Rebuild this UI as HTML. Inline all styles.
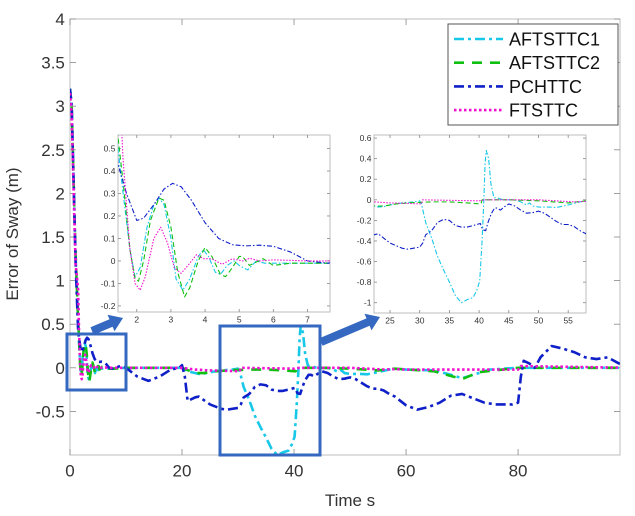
<!DOCTYPE html>
<html><head><meta charset="utf-8"><style>
html,body{margin:0;padding:0;background:#fff;}
svg{display:block;font-family:"Liberation Sans",sans-serif;}
</style></head><body>
<svg id="chart" width="635" height="516" viewBox="0 0 635 516" xmlns="http://www.w3.org/2000/svg">
<g id="main"></g>
</svg>
<script>
const seriesNames = ["AFTSTTC1","AFTSTTC2","PCHTTC","FTSTTC"];
const mainXTicks = [0,20,40,60,80];
const mainYTicks = [-0.5,0,0.5,1,1.5,2,2.5,3,3.5,4];
const mainYTickLabels = ["-0.5","0","0.5","1","1.5","2","2.5","3","3.5","4"];
const inset1XTicks = [2,3,4,5,6,7];
const inset1YTicks = [-0.2,-0.1,0,0.1,0.2,0.3,0.4,0.5];
const inset2XTicks = [25,30,35,40,45,50,55];
const inset2YTicks = [-1,-0.8,-0.6,-0.4,-0.2,0,0.2,0.4,0.6];

const cyanT = [0,0.3,0.7,1.0,1.45,1.6,1.8,1.95,2.1,2.3,2.5,2.65,2.8,3.0,3.15,3.35,3.55,3.8,3.95,4.1,4.3,4.45,4.65,4.85,5.0,5.25,5.5,5.75,6.0,6.5,7,7.6,10,20,21,22.3,23,24,25,27,29,30,30.3,31,32,33,34,35,36,37,38,39,39.6,40.1,40.5,40.8,41,41.2,41.6,42,42.5,43,44,46,47,48,48.5,49,50,52,53,55,57,58,60,65,68,70,72,75,80,100];
const cyanY = [3.2,3.0,2.0,1.3,0.5,0.3,0.05,-0.07,-0.03,0.15,0.25,0.28,0.25,0.1,-0.08,-0.13,-0.08,0.02,0.05,0.02,-0.05,-0.06,-0.02,0.0,-0.02,-0.04,0.0,-0.01,-0.01,-0.01,-0.01,-0.01,0,0,-0.04,-0.06,-0.07,-0.065,-0.05,-0.03,-0.02,-0.01,-0.04,-0.22,-0.37,-0.55,-0.68,-0.8,-0.93,-1.0,-0.97,-0.95,-0.88,-0.79,-0.4,0.0,0.35,0.48,0.4,0.15,0.02,0.02,0.0,0.0,-0.02,-0.05,-0.03,-0.06,-0.07,-0.07,-0.075,-0.05,-0.02,-0.01,-0.02,-0.03,-0.08,-0.12,-0.08,-0.02,0,0];

const greenT = [0,0.3,0.7,1.0,1.45,1.6,1.8,1.95,2.05,2.2,2.4,2.65,2.8,3.0,3.2,3.4,3.55,3.8,4.0,4.2,4.45,4.6,4.8,5.0,5.1,5.3,5.7,6.0,6.5,7,7.6,10,20,22.3,24,26,28,30,32,35,38,40.3,40.5,45,50,55,58,65,70,73,80,100];
const greenY = [3.2,3.0,2.0,1.3,0.55,0.35,0.05,-0.08,-0.09,0.0,0.18,0.28,0.27,0.15,-0.05,-0.16,-0.12,0.0,0.06,0.02,-0.06,-0.07,-0.03,0.02,0.02,-0.02,0.01,-0.02,-0.01,-0.01,-0.01,0,0,-0.06,-0.06,-0.04,-0.03,-0.025,-0.02,-0.02,-0.03,-0.04,0.0,0,-0.01,-0.03,-0.01,-0.04,-0.13,-0.05,0,0];

const blueT = [0,0.3,0.7,1.0,1.45,1.7,2.0,2.2,2.5,2.8,3.05,3.3,3.6,4.0,4.4,4.8,5.2,5.6,6.0,6.5,7,7.6,8,9,10,12,14,16,18,19.5,20,20.5,21,22,22.3,23,25,27,28,30,30.5,31,32,33,34,35,36,37,38,39,40.2,40.6,41.1,41.5,42,42.6,43,43.6,44.2,45,46,47,48,49,50,51,52,53,54,55,56,57,58,60,62,64,66,68,70,72,74,76,79,80,80.5,81,82,83,84,86,88,90,92,94,96,98,100];
const blueY = [3.2,3.0,2.0,1.2,0.43,0.3,0.18,0.19,0.25,0.32,0.345,0.33,0.27,0.17,0.1,0.072,0.067,0.07,0.065,0.04,0.0,-0.01,0.0,0.02,0.0,-0.1,-0.15,-0.1,-0.02,0.0,0.03,-0.1,-0.38,-0.35,-0.34,-0.33,-0.42,-0.47,-0.48,-0.46,-0.42,-0.34,-0.3,-0.22,-0.19,-0.2,-0.25,-0.265,-0.265,-0.25,-0.23,-0.29,-0.3,-0.22,-0.14,-0.08,-0.08,-0.1,-0.07,-0.04,-0.06,-0.1,-0.13,-0.125,-0.11,-0.13,-0.17,-0.21,-0.24,-0.24,-0.26,-0.3,-0.33,-0.43,-0.48,-0.45,-0.4,-0.32,-0.3,-0.35,-0.4,-0.42,-0.42,-0.4,-0.1,0.08,0.05,0.0,0.12,0.25,0.22,0.18,0.12,0.1,0.12,0.05,0.05];

const magT = [0,0.3,0.7,1.0,1.45,1.6,1.8,1.95,2.1,2.25,2.5,2.7,2.9,3.1,3.3,3.5,3.75,3.95,4.2,4.5,4.8,5.1,5.3,5.6,6,7,7.6,20,22.3,25,28,30.3,30.5,35,40,41,50,53,56,58,60,80,80.5,100];
const magY = [3.15,2.9,1.9,1.2,0.9,0.45,0.05,-0.1,-0.13,-0.07,0.1,0.15,0.08,-0.03,-0.055,-0.02,0.028,0.01,0.01,-0.015,0.01,0.0,0.012,0.0,0.005,0,0,0,-0.02,-0.03,-0.035,-0.04,0.0,-0.005,-0.01,0,0,-0.01,-0.02,-0.015,-0.02,-0.02,0.02,0];

const seriesT = [cyanT, greenT, blueT, magT];
const seriesY = [cyanY, greenY, blueY, magY];
const colors = ["#18c8e8","#10c010","#1020c8","#f010d0"];
const dashMain = ["10 4 3 4","10 8","10 4 3 4","2.5 2.5"];
const dashInset = ["5 2 1.5 2","5 3","5 2 1.5 2","1.5 1.5"];

const NS="http://www.w3.org/2000/svg";
const root=document.getElementById('main');
function mk(tag,attrs,parent){const e=document.createElementNS(NS,tag);for(const k in attrs)e.setAttribute(k,attrs[k]);(parent||root).appendChild(e);return e;}

function drawAxes(cfg){
  const {x0,x1,y0,y1,xmin,xmax,ymin,ymax,name,lw,dash,fs,xt,yt,ytl,tickLen,clipId}=cfg;
  const sx=v=>x0+(v-xmin)/(xmax-xmin)*(x1-x0);
  const sy=v=>y1-(v-ymin)/(ymax-ymin)*(y1-y0);
  const g=mk('g',{});
  
  
  const bg=mk('rect',{x:x0,y:y0,width:x1-x0,height:y1-y0,fill:'#fff',stroke:'#bdbdbd','stroke-width':1},g);
  
  
  const defs=mk('defs',{},g);
  const cp=mk('clipPath',{id:clipId},defs);
  mk('rect',{x:x0,y:y0,width:x1-x0,height:y1-y0},cp);
  xt.forEach((v,i)=>{
    const x=sx(v);
    mk('line',{x1:x,x2:x,y1:y1,y2:y1-tickLen,stroke:'#888','stroke-width':0.8},g);
    mk('line',{x1:x,x2:x,y1:y0,y2:y0+tickLen,stroke:'#888','stroke-width':0.8},g);
    const t=mk('text',{x:x,y:y1+fs*1.25,'font-size':fs,fill:'#333','text-anchor':'middle'},g);
    t.textContent=String(v);
    
    
  });
  yt.forEach((v,i)=>{
    const y=sy(v);
    mk('line',{x1:x0,x2:x0+tickLen,y1:y,y2:y,stroke:'#888','stroke-width':0.8},g);
    mk('line',{x1:x1,x2:x1-tickLen,y1:y,y2:y,stroke:'#888','stroke-width':0.8},g);
    const t=mk('text',{x:x0-fs*0.3,y:y+fs*0.35,'font-size':fs,fill:'#333','text-anchor':'end'},g);
    t.textContent=ytl?ytl[i]:String(v);
    
    
  });
  const lg=mk('g',{'clip-path':'url(#'+clipId+')'},g);
  seriesT.forEach((T,si)=>{
    const Y=seriesY[si];
    let d='';
    T.forEach((t,i)=>{d+=(i?'L':'M')+sx(t).toFixed(2)+' '+sy(Y[i]).toFixed(2);});
    const p=mk('path',{d:d,fill:'none',stroke:colors[si],'stroke-width':lw,'stroke-dasharray':dash[si],'stroke-linejoin':'round'},lg);
    
    
  });
  return {sx,sy};
}

drawAxes({x0:70,x1:620,y0:19,y1:455,xmin:0,xmax:98.2,ymin:-1,ymax:4,name:'main-axes',lw:2.6,dash:dashMain,fs:17,xt:mainXTicks,yt:mainYTicks,ytl:mainYTickLabels,tickLen:6,clipId:'c0'});

// zoom boxes and arrows
const boxes=[[67,334,126,390],[220,326,320,455]];
boxes.forEach((b,i)=>{
  const r=mk('rect',{x:b[0],y:b[1],width:b[2]-b[0],height:b[3]-b[1],fill:'none',stroke:'#3568c0','stroke-width':3});
  
  
});
function arrow(xa,ya,xb,yb,n){
  const dx=xb-xa,dy=yb-ya,L=Math.hypot(dx,dy),ux=dx/L,uy=dy/L,px=-uy,py=ux;
  const hl=13,hw=9,sw=4;
  const bx=xb-ux*hl,by=yb-uy*hl;
  const pts=[[xa+px*sw,ya+py*sw],[bx+px*sw,by+py*sw],[bx+px*hw,by+py*hw],[xb,yb],[bx-px*hw,by-py*hw],[bx-px*sw,by-py*sw],[xa-px*sw,ya-py*sw]];
  const p=mk('polygon',{points:pts.map(q=>q[0].toFixed(1)+','+q[1].toFixed(1)).join(' '),fill:'#3568c0'});
  
  
}
arrow(92,331,123,318,'zoom-arrow-1');
arrow(321,342,380,317,'zoom-arrow-2');

drawAxes({x0:118,x1:330,y0:135,y1:312,xmin:1.45,xmax:7.66,ymin:-0.227,ymax:0.56,name:'inset-1',lw:1.1,dash:dashInset,fs:8.5,xt:inset1XTicks,yt:inset1YTicks,tickLen:3,clipId:'c1'});
drawAxes({x0:374,x1:586,y0:135,y1:313,xmin:22.3,xmax:58,ymin:-1.1,ymax:0.63,name:'inset-2',lw:1.1,dash:dashInset,fs:8.5,xt:inset2XTicks,yt:inset2YTicks,tickLen:3,clipId:'c2'});

// legend
const lg=mk('g',{});


const lr=mk('rect',{x:448,y:24,width:170,height:101,fill:'#fff',stroke:'#555','stroke-width':1},lg);


seriesNames.forEach((n,i)=>{
  const y=39+i*23.7;
  const l=mk('line',{x1:454,x2:503,y1:y,y2:y,stroke:colors[i],'stroke-width':2.6,'stroke-dasharray':dashMain[i]},lg);
  
  
  const t=mk('text',{x:509,y:y+6.5,'font-size':18,fill:'#111'},lg);
  t.textContent=n;
  
  
});

const xl=mk('text',{x:350,y:506,'font-size':17,fill:'#333','text-anchor':'middle'});
xl.textContent='Time s';


const yl=mk('text',{x:0,y:0,'font-size':17,fill:'#333','text-anchor':'middle',transform:'translate(18,234) rotate(-90)'});
yl.textContent='Error of Sway (m)';


</script>
</body></html>
